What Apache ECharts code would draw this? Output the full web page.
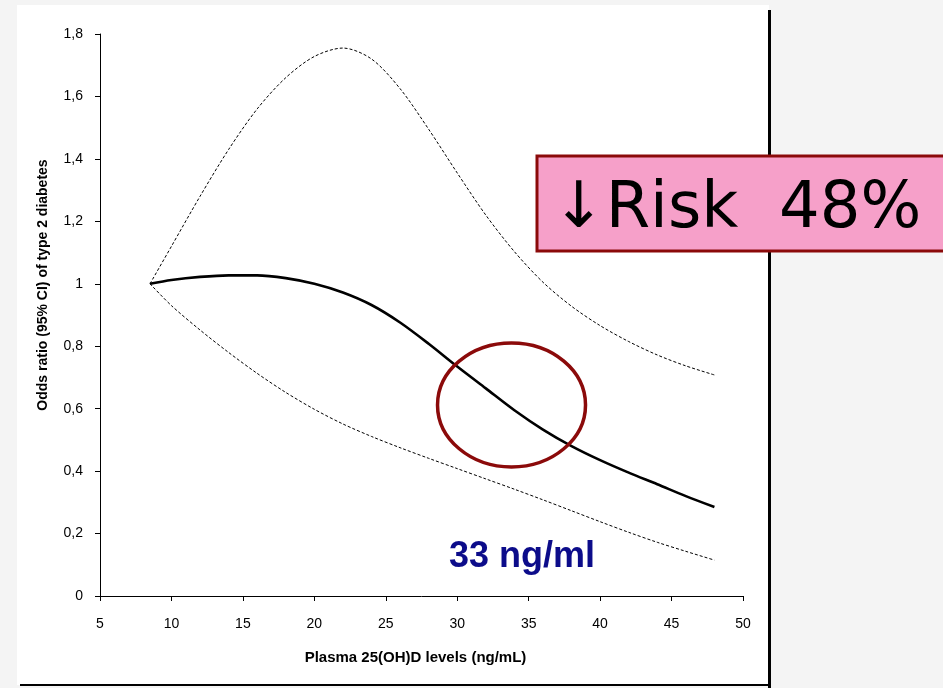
<!DOCTYPE html>
<html>
<head>
<meta charset="utf-8">
<script src="https://cdn.jsdelivr.net/npm/echarts@6/dist/echarts.min.js"></script>
<style>
html,body{margin:0;padding:0;background:#f4f4f4;}
#c{width:943px;height:688px;}
</style>
</head>
<body>
<div id="c"></div>
<script>
// ---- data ----
const xValues   = [8.5, 10, 12, 14, 16, 18, 20, 22, 24, 26, 28, 30, 32, 34, 36, 38, 40, 42, 44, 46, 48];
const oddsRatio = [1.0, 1.012, 1.022, 1.027, 1.027, 1.018, 1.0, 0.972, 0.932, 0.876, 0.808, 0.735, 0.665, 0.595, 0.533, 0.48, 0.435, 0.395, 0.358, 0.32, 0.285];
const ciUpper   = [1.0, 1.12, 1.28, 1.43, 1.56, 1.66, 1.728, 1.755, 1.72, 1.625, 1.495, 1.355, 1.22, 1.103, 1.005, 0.928, 0.866, 0.815, 0.772, 0.737, 0.708];
const ciLower   = [1.0, 0.93, 0.852, 0.78, 0.713, 0.652, 0.598, 0.551, 0.511, 0.475, 0.441, 0.408, 0.375, 0.342, 0.308, 0.273, 0.238, 0.204, 0.172, 0.143, 0.115];
const yTickLabels = ['0', '0,2', '0,4', '0,6', '0,8', '1', '1,2', '1,4', '1,6', '1,8'];
const xTickLabels = ['5', '10', '15', '20', '25', '30', '35', '40', '45', '50'];
const thresholdX = 33.8, thresholdY = 0.612;

const pairs = arr => xValues.map((x, i) => [x, arr[i]]);
const FONT = '"Liberation Sans", Arial, sans-serif';

const chart = echarts.init(document.getElementById('c'), null, {renderer: 'canvas'});
const option = {
  backgroundColor: '#f4f4f4',
  animation: false,
  grid: {left: 100, right: 200, top: 34, bottom: 92},
  xAxis: {
    type: 'value', min: 5, max: 50, interval: 5,
    axisLine: {show: true, lineStyle: {color: '#000', width: 1}},
    axisTick: {show: true, inside: false, length: 5, lineStyle: {color: '#000'}},
    splitLine: {show: false},
    axisLabel: {margin: 21, color: '#000', fontSize: 14, fontFamily: FONT,
      formatter: v => xTickLabels[Math.round((v - 5) / 5)]},
    name: 'Plasma 25(OH)D levels (ng/mL)', nameLocation: 'middle', nameGap: 54,
    nameTextStyle: {fontWeight: 'bold', fontSize: 15, color: '#000', fontFamily: FONT, padding: [0, 12, 0, 0]}
  },
  yAxis: {
    type: 'value', min: 0, max: 1.8, interval: 0.2,
    axisLine: {show: true, lineStyle: {color: '#000', width: 1}},
    axisTick: {show: true, inside: false, length: 5, lineStyle: {color: '#000'}},
    splitLine: {show: false},
    axisLabel: {margin: 17, color: '#000', fontSize: 14, fontFamily: FONT,
      formatter: v => yTickLabels[Math.round(v / 0.2)]},
    name: 'Odds ratio (95% CI) of type 2 diabetes', nameLocation: 'middle', nameGap: 50,
    nameTextStyle: {fontWeight: 'bold', fontSize: 14, color: '#000', fontFamily: FONT, padding: [0, 0, 0, 60]}
  },
  series: [
    {name: 'OR', type: 'line', data: pairs(oddsRatio), showSymbol: false, smooth: 0.3,
     lineStyle: {color: '#000', width: 2.6}, z: 3},
    {name: 'Upper', type: 'line', data: pairs(ciUpper), showSymbol: false, smooth: 0.3,
     lineStyle: {color: '#000', width: 1, type: [3, 2]}},
    {name: 'Lower', type: 'line', data: pairs(ciLower), showSymbol: false, smooth: 0.3,
     lineStyle: {color: '#000', width: 1, type: [3, 2]}}
  ]
};
chart.setOption(option);

const c = chart.convertToPixel({gridIndex: 0}, [thresholdX, thresholdY]);
chart.setOption({
  graphic: [
    {type: 'rect', z: -10, silent: true, shape: {x: 17, y: 5, width: 752, height: 680}, style: {fill: '#ffffff'}},
    {type: 'rect', z: 50, silent: true, shape: {x: 768, y: 10, width: 3, height: 678}, style: {fill: '#000'}},
    {type: 'rect', z: 50, silent: true, shape: {x: 20, y: 684, width: 751, height: 2}, style: {fill: '#000'}},
    {type: 'ellipse', z: 60, silent: true, shape: {cx: c[0], cy: c[1], rx: 74, ry: 62},
     style: {fill: 'none', stroke: '#8b0a0a', lineWidth: 3.5}},
    {type: 'text', z: 60, silent: true, x: 522, y: 557,
     style: {text: '33 ng/ml', font: 'bold 36px "Liberation Sans", Arial, sans-serif', fill: '#0c0c8a',
       align: 'center', verticalAlign: 'middle'}},
    {type: 'rect', z: 100, silent: true, shape: {x: 537, y: 156, width: 420, height: 95},
     style: {fill: '#f6a0c9', stroke: '#8b0a0a', lineWidth: 3}},
    {type: 'text', z: 101, silent: true, x: 552, y: 210,
     style: {text: '\u2193Risk  48%', font: '64px "DejaVu Sans", Verdana, sans-serif', fill: '#000',
       align: 'left', verticalAlign: 'middle'}}
  ]
});
</script>
</body>
</html>
